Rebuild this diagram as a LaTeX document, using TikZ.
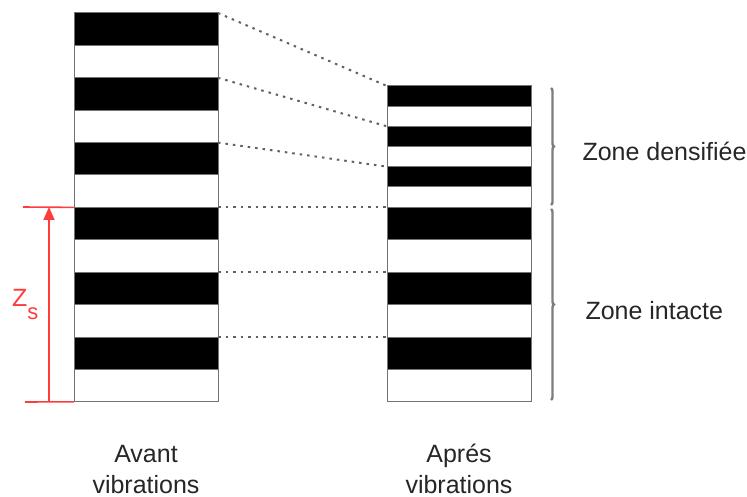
\documentclass[tikz,border=0pt]{standalone}
\usepackage{fontspec}
\setmainfont{Liberation Sans}
\usepackage{xcolor}
\usepackage{tikz}
\usetikzlibrary{positioning,arrows.meta,decorations.pathreplacing}
\definecolor{zsred}{RGB}{255,60,60}
\definecolor{bracegray}{RGB}{125,125,125}

\begin{document}
\begin{tikzpicture}[
    x=1pt,y=-1pt,
    font=\fontsize{25}{31}\selectfont,
    lay/.style={draw=black!55,line width=1pt,minimum width=144pt,inner sep=0pt,outer sep=0pt},
    blk/.style={lay,fill=black},
    wht/.style={lay,fill=white},
    big/.style={minimum height=32.4pt},
    thin/.style={minimum height=20.17pt},
    link/.style={draw=black!62,line width=2pt,dash pattern=on 2.5pt off 5pt},
    zbrace/.style={draw=bracegray,line width=2.4pt,decorate,decoration={brace,amplitude=3pt}},
    dimln/.style={draw=zsred,line width=1.6pt},
    lbl/.style={align=center,text=black!85,anchor=base}
  ]
    \useasboundingbox (0,0) rectangle (747,497);

    % avant vibrations
    \node[blk,big] (L1) at (146,29.2) {};
    \node[wht,big] (L2) at (146,61.6) {};
    \node[blk,big] (L3) at (146,94.0) {};
    \node[wht,big] (L4) at (146,126.4) {};
    \node[blk,big] (L5) at (146,158.8) {};
    \node[wht,big] (L6) at (146,191.2) {};
    \node[blk,big] (L7) at (146,223.6) {};
    \node[wht,big] (L8) at (146,256.0) {};
    \node[blk,big] (L9) at (146,288.4) {};
    \node[wht,big] (L10) at (146,320.8) {};
    \node[blk,big] (L11) at (146,353.2) {};
    \node[wht,big] (L12) at (146,385.6) {};

    % apres vibrations
    \node[blk,thin] (R1) at (459,96.08) {};
    \node[wht,thin] (R2) at (459,116.25) {};
    \node[blk,thin] (R3) at (459,136.42) {};
    \node[wht,thin] (R4) at (459,156.58) {};
    \node[blk,thin] (R5) at (459,176.75) {};
    \node[wht,thin] (R6) at (459,196.92) {};
    \node[blk,big] (R7) at (459,223.6) {};
    \node[wht,big] (R8) at (459,256.0) {};
    \node[blk,big] (R9) at (459,288.4) {};
    \node[wht,big] (R10) at (459,320.8) {};
    \node[blk,big] (R11) at (459,353.2) {};
    \node[wht,big] (R12) at (459,385.6) {};

    \draw[link] (L1.north east) -- (R1.north west);
    \draw[link] (L3.north east) -- (R3.north west);
    \draw[link] (L5.north east) -- (R5.north west);
    \draw[link] (L7.north east) -- (R7.north west);
    \draw[link] (L9.north east) -- (R9.north west);
    \draw[link] (L11.north east) -- (R11.north west);

    % zones
    \coordinate (dens1) at (551,88);
    \coordinate (dens2) at (551,205);
    \coordinate (int1) at (551,209);
    \coordinate (int2) at (551,400);
    \draw[zbrace] (dens1) -- (dens2);
    \draw[zbrace] (int1) -- (int2);
    \node[text=black!85,anchor=base west] (zdens) at (579,161) {Zone densifiée};
    \node[text=black!85,anchor=base west] (zint) at (582,319) {Zone intacte};

    % cote Zs
    \coordinate (zstl) at (23,207);
    \coordinate (zsbl) at (25,402);
    \coordinate (zstop) at (49,207);
    \coordinate (zsbot) at (49,402);
    \draw[dimln] (zstl) -- (L7.north west);
    \draw[dimln] (zsbl) -- (L12.south west);
    \draw[dimln,-{Triangle[length=13pt,width=11pt]}] (zsbot) -- (zstop);
    \node[text=zsred,anchor=base west,inner sep=0pt] (zs) at (12,306) {Z\raisebox{-13pt}{\fontsize{22}{22}\selectfont s}};

    \node[lbl] (avant) at (146,493) {Avant\\vibrations};
    \node[lbl] (apres) at (459,493) {Aprés\\vibrations};
  \end{tikzpicture}
\end{document}
